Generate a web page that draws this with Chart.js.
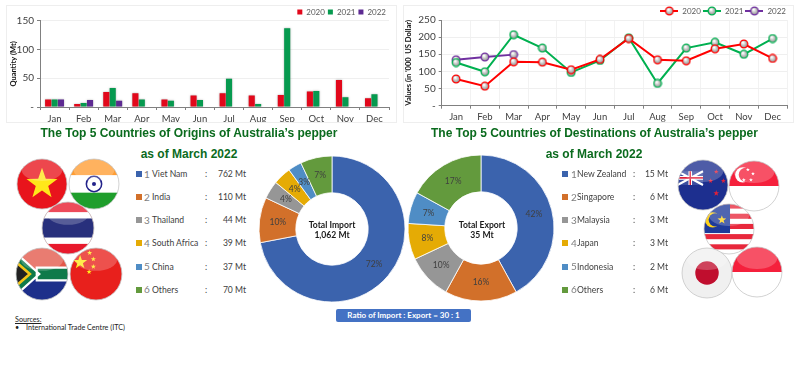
<!DOCTYPE html>
<html>
<head>
<meta charset="utf-8">
<script src="https://cdn.jsdelivr.net/npm/chart.js@4/dist/chart.umd.min.js"></script>
<style>
html, body { margin: 0; padding: 0; background: #fff; }
#page { position: relative; width: 800px; height: 381px; overflow: hidden; font-family: Lato, sans-serif; color: #404040; }
#page canvas, #page svg, .txt, .panel { position: absolute; }
.panel { border: 1px solid #eeeeee; box-sizing: border-box; }
.txt { white-space: nowrap; }
.title { font-family: "Liberation Sans", sans-serif; font-weight: bold; font-size: 12px; color: #0b6b1e; transform: translateX(-50%); }
.total { font-weight: bold; font-size: 8.6px; line-height: 10px; color: #1a1a1a; text-align: center; transform: translateX(-50%); }
.swatch { position: absolute; width: 6px; height: 6px; }
.num { font-size: 10px; color: #7f7f7f; }
.row { font-size: 8.6px; color: #404040; }
#ratio { left: 336px; top: 309px; width: 135px; height: 13px; background: #4472c4; border-radius: 2px; color: #fff; font-weight: bold; font-size: 8px; line-height: 13px; text-align: center; }
</style>
</head>
<body>
<div id="page">
  <div class="panel" style="left:6px;top:5px;width:391px;height:118px"></div>
  <div class="panel" style="left:403px;top:5px;width:391px;height:118px"></div>
  <canvas id="barChart" width="390" height="122" style="left:6px;top:5px"></canvas>
  <canvas id="lineChart" width="390" height="122" style="left:403px;top:5px"></canvas>
  <canvas id="importChart" width="150" height="150" style="left:257px;top:154px"></canvas>
  <canvas id="exportChart" width="150" height="150" style="left:406px;top:153px"></canvas>
  <div class="txt title" style="left:189px;top:126px">The Top 5 Countries of Origins of Australia’s pepper</div>
  <div class="txt title" style="left:594.5px;top:126px">The Top 5 Countries of Destinations of Australia’s pepper</div>
  <div class="txt title" style="left:189px;top:147px">as of March 2022</div>
  <div class="txt title" style="left:594px;top:147px">as of March 2022</div>
  <div class="txt total" style="left:332px;top:220px">Total Import<br>1,062 Mt</div>
  <div class="txt total" style="left:482px;top:220px">Total Export<br>35 Mt</div>
  <div class="txt" id="ratio">Ratio of Import : Export = 30 : 1</div>
  <div class="txt" style="left:15px;top:315px;font-size:7.2px;text-decoration:underline;color:#222">Sources:</div>
  <div class="txt" style="left:15px;top:323px;font-size:7.2px;color:#222">•</div>
  <div class="txt" style="left:26px;top:323px;font-size:7.2px;color:#222">International Trade Centre (ITC)</div>
</div>
<script>
const months = ['Jan', 'Feb', 'Mar', 'Apr', 'May', 'Jun', 'Jul', 'Aug', 'Sep', 'Oct', 'Nov', 'Dec'];
const seriesNames = ['2020', '2021', '2022'];

// quantity, Mt
const quantity2020 = [13, 5, 26, 24, 13, 20, 24, 20, 21, 27, 47, 15];
const quantity2021 = [13, 7, 33, 13, 11, 12, 49, 5, 137, 28, 17, 22];
const quantity2022 = [13, 12, 11];

// values, '000 US Dollar
const value2020 = [78, 57, 128, 127, 105, 135, 196, 134, 131, 166, 180, 138];
const value2021 = [126, 99, 207, 168, 97, 132, 198, 65, 168, 185, 150, 196];
const value2022 = [134, 142, 149];

const originNames = ['Viet Nam', 'India', 'Thailand', 'South Africa', 'China', 'Others'];
const originQuantity = ['762 Mt', '110 Mt', '44 Mt', '39 Mt', '37 Mt', '70 Mt'];
const originShare = [72, 10, 4, 4, 3, 7];

const destNames = ['New Zealand', 'Singapore', 'Malaysia', 'Japan', 'Indonesia', 'Others'];
const destQuantity = ['15 Mt', '6 Mt', '3 Mt', '3 Mt', '2 Mt', '6 Mt'];
const destShare = [42, 16, 10, 8, 7, 17];

const sliceColors = ['#3b63ad', '#d2702a', '#969696', '#e5ab05', '#4f8dc5', '#639a3d'];
const barColors = ['#e2081b', '#069a4f', '#5d2a92'];
const lineColors = ['#ff0000', '#00b050', '#7030a0'];
const page = document.getElementById('page');

Chart.defaults.font.family = 'Lato, sans-serif';
Chart.defaults.color = '#404040';
Chart.defaults.animation = false;

// ticks with a dash at zero, the way the accounting format shows it
function dashZero(v){
    return v === 0 ? '-' : v;
}

function fixedAxes(leftWidth, bottomHeight, stepSize, max, yTitle, verticalGrid){
    return {
        x: {
            offset: true,
            afterFit: function (s){ s.height = bottomHeight; },
            grid: { offset: true, drawOnChartArea: verticalGrid, color: '#f2f2f2', tickColor: '#808080', tickLength: 3 },
            border: { color: '#808080' },
            ticks: { font: { size: 9.5 }, color: '#404040', maxRotation: 0, padding: 3 }
        },
        y: {
            min: 0,
            max: max,
            afterFit: function (s){ s.width = leftWidth; },
            grid: { color: '#efefef', tickColor: '#808080', tickLength: 3 },
            border: { color: '#808080' },
            ticks: { stepSize: stepSize, callback: dashZero, font: { size: 10 }, color: '#404040', padding: 3 },
            title: { display: true, text: yTitle, font: { size: 7.5, weight: 'bold' }, color: '#111', padding: { top: 0, bottom: 1 } }
        }
    };
}

// keep the legend to a set height so the plot starts where it should
function legendHeight(h){
    return {
        id: 'legendHeight',
        beforeInit: function (chart){
            const fit = chart.legend.fit;
            chart.legend.fit = function (){
                fit.call(this);
                this.height = h;
            };
        }
    };
}

// soft grey halo behind the bars
const barShadow = {
    id: 'barShadow',
    beforeDatasetsDraw: function (chart){
        chart.ctx.save();
        chart.ctx.shadowColor = 'rgba(90,90,90,0.55)';
        chart.ctx.shadowBlur = 2;
    },
    afterDatasetsDraw: function (chart){
        chart.ctx.restore();
    }
};

new Chart(document.getElementById('barChart'), {
    type: 'bar',
    data: {
        labels: months,
        datasets: [
            { label: seriesNames[0], data: quantity2020, backgroundColor: barColors[0] },
            { label: seriesNames[1], data: quantity2021, backgroundColor: barColors[1] },
            { label: seriesNames[2], data: quantity2022, backgroundColor: barColors[2] }
        ]
    },
    plugins: [barShadow, legendHeight(15.7)],
    options: {
        responsive: false,
        categoryPercentage: 0.66,
        barPercentage: 0.95,
        layout: { padding: { left: 3, right: 7, top: 0, bottom: 5 } },
        scales: fixedAxes(31, 15, 50, 150, 'Quantity (Mt)', false),
        plugins: {
            tooltip: { enabled: false },
            legend: {
                align: 'end',
                labels: { boxWidth: 5, boxHeight: 5, padding: 3, font: { size: 8 }, color: '#595959' }
            }
        }
    }
});

// glossy grey ball with a coloured rim
function ballMarker(color){
    const c = document.createElement('canvas');
    c.width = 10;
    c.height = 10;
    const g = c.getContext('2d');
    const fill = g.createRadialGradient(4, 3.5, 0.5, 5, 5, 4);
    fill.addColorStop(0, '#ffffff');
    fill.addColorStop(0.6, '#b8b8b8');
    fill.addColorStop(1, '#8a8a8a');
    g.beginPath();
    g.arc(5, 5, 3.8, 0, Math.PI * 2);
    g.fillStyle = fill;
    g.fill();
    g.lineWidth = 1.3;
    g.strokeStyle = color;
    g.stroke();
    return c;
}

function legendMarker(color){
    const c = document.createElement('canvas');
    c.width = 18;
    c.height = 10;
    const g = c.getContext('2d');
    g.strokeStyle = color;
    g.lineWidth = 2;
    g.beginPath();
    g.moveTo(0, 5);
    g.lineTo(18, 5);
    g.stroke();
    g.drawImage(ballMarker(color), 4, 0);
    return c;
}

function lineSet(i, values){
    return {
        label: seriesNames[i],
        data: values,
        borderColor: lineColors[i],
        borderWidth: 2,
        pointStyle: ballMarker(lineColors[i]),
        tension: 0
    };
}

new Chart(document.getElementById('lineChart'), {
    type: 'line',
    data: {
        labels: months,
        datasets: [lineSet(0, value2020), lineSet(1, value2021), lineSet(2, value2022)]
    },
    plugins: [legendHeight(15)],
    options: {
        responsive: false,
        layout: { padding: { left: 1, right: 5, top: 0, bottom: 5.3 } },
        scales: fixedAxes(37.7, 16, 50, 250, "Values (in '000  US Dollar)", true),
        plugins: {
            tooltip: { enabled: false },
            legend: {
                align: 'end',
                labels: {
                    usePointStyle: true,
                    pointStyleWidth: 18,
                    padding: 2,
                    font: { size: 8 },
                    color: '#595959',
                    generateLabels: function (chart){
                        return chart.data.datasets.map(function (d, i){
                            return { text: d.label, pointStyle: legendMarker(lineColors[i]), datasetIndex: i, lineWidth: 0, fontColor: '#595959' };
                        });
                    }
                }
            }
        }
    }
});

// percent text on each slice
const sliceLabels = {
    id: 'sliceLabels',
    afterDatasetsDraw: function (chart){
        const ctx = chart.ctx;
        const ds = chart.data.datasets[0];
        ctx.save();
        ctx.font = '8.5px Lato, sans-serif';
        ctx.fillStyle = '#3f3f3f';
        ctx.textAlign = 'center';
        ctx.textBaseline = 'middle';
        chart.getDatasetMeta(0).data.forEach(function (arc, i){
            const p = arc.tooltipPosition();
            ctx.fillText(ds.data[i] + '%', p.x, p.y);
        });
        ctx.restore();
    }
};

function doughnut(id, names, shares){
    new Chart(document.getElementById(id), {
        type: 'doughnut',
        data: {
            labels: names,
            datasets: [{ data: shares, backgroundColor: sliceColors, borderColor: '#ffffff', borderWidth: 0.8, radius: 73, cutout: 37 }]
        },
        plugins: [sliceLabels],
        options: {
            responsive: false,
            plugins: { legend: { display: false }, tooltip: { enabled: false } }
        }
    });
}

doughnut('importChart', originNames, originShare);
doughnut('exportChart', destNames, destShare);

// lists beside the doughnuts
function addText(cls, text, left, centerY, alignRight){
    const d = document.createElement('div');
    d.className = 'txt ' + cls;
    d.textContent = text;
    d.style.top = (centerY - 6) + 'px';
    d.style.lineHeight = '12px';
    if (alignRight){
        d.style.right = (800 - left) + 'px';
    } else {
        d.style.left = left + 'px';
    }
    page.appendChild(d);
}

function addList(names, quantities, xs){
    names.forEach(function (name, i){
        const y = 174 + i * 23.15;
        const s = document.createElement('div');
        s.className = 'swatch';
        s.style.left = xs.box + 'px';
        s.style.top = (y - 3) + 'px';
        s.style.background = sliceColors[i];
        page.appendChild(s);
        addText('num', String(i + 1), xs.num, y - 0.5);
        addText('row', name, xs.name, y);
        addText('row', ':', xs.colon, y);
        addText('row', quantities[i], xs.value, y, true);
    });
}

addList(originNames, originQuantity, { box: 136, num: 144, name: 152, colon: 205, value: 246 });
addList(destNames, destQuantity, { box: 562, num: 571, name: 577, colon: 633, value: 668 });

// flag buttons
function starPts(cx, cy, r){
    const pts = [];
    for (let i = 0; i < 10; i++){
        const a = -Math.PI / 2 + i * Math.PI / 5;
        const q = i % 2 ? r * 0.4 : r;
        pts.push((cx + q * Math.cos(a)).toFixed(1) + ',' + (cy + q * Math.sin(a)).toFixed(1));
    }
    return pts.join(' ');
}
function star(cx, cy, r, fill){
    return '<polygon points="' + starPts(cx, cy, r) + '" fill="' + fill + '"/>';
}
function band(y, h, fill){
    return '<rect x="0" y="' + y + '" width="100" height="' + h + '" fill="' + fill + '"/>';
}

const flagArt = {
    vietnam: band(0, 100, '#e8141c') + star(50, 50, 32, '#ffe81a'),
    india: band(0, 33, '#ff9d33') + band(33, 34, '#ffffff') + band(67, 33, '#1f9e2c') +
        '<circle cx="50" cy="50" r="15" fill="none" stroke="#22228a" stroke-width="3"/><circle cx="50" cy="50" r="4" fill="#22228a"/>',
    thailand: band(0, 100, '#e8192c') + band(20, 60, '#ffffff') + band(32, 36, '#28307c'),
    southafrica: band(0, 50, '#e3584a') + band(50, 50, '#1d2f8a') +
        '<path d="M-5,5 L45,50 L-5,95 Z M40,38 L105,38 L105,62 L40,62 Z" fill="#0f7a4a" stroke="#fff" stroke-width="4"/>' +
        '<path d="M-5,22 L27,50 L-5,78 Z" fill="#222" stroke="#f5c518" stroke-width="5"/>',
    china: band(0, 100, '#e8201c') + star(20, 28, 14, '#ffe81a') + star(38, 10, 5, '#ffe81a') + star(45, 22, 5, '#ffe81a') +
        star(45, 36, 5, '#ffe81a') + star(37, 46, 5, '#ffe81a'),
    newzealand: band(0, 100, '#1d2f8f') +
        '<rect x="0" y="23" width="50" height="27" fill="#3a4da0"/><path d="M0,23 L50,50 M50,23 L0,50" stroke="#fff" stroke-width="4"/><path d="M25,23 L25,50 M0,36 L50,36" stroke="#fff" stroke-width="7"/>' +
        '<path d="M25,23 L25,50 M0,36 L50,36" stroke="#e0203a" stroke-width="3"/>' +
        star(76, 24, 5, '#e0203a') + star(65, 42, 5, '#e0203a') + star(90, 42, 5, '#e0203a') + star(76, 66, 6, '#e0203a'),
    singapore: band(0, 50, '#f5203c') + band(50, 50, '#ffffff') +
        '<circle cx="28" cy="28" r="15" fill="#fff"/><circle cx="34" cy="28" r="14" fill="#f5203c"/>' +
        star(38, 18, 4, '#fff') + star(48, 26, 4, '#fff') + star(44, 38, 4, '#fff') + star(30, 38, 4, '#fff'),
    malaysia: band(0, 100, '#ffffff') + band(0, 10, '#e8283c') + band(20, 10, '#e8283c') + band(40, 10, '#e8283c') + band(60, 10, '#e8283c') + band(80, 10, '#e8283c') +
        '<rect x="0" y="0" width="52" height="58" fill="#1f3a9a"/><circle cx="18" cy="32" r="15" fill="#ffd21a"/><circle cx="23" cy="32" r="13" fill="#1f3a9a"/>' +
        star(36, 32, 9, '#ffd21a'),
    japan: band(0, 100, '#f0f0f0') + '<circle cx="50" cy="50" r="23" fill="#c00e2e"/>',
    indonesia: band(0, 50, '#f5203c') + band(50, 50, '#ffffff')
};

const flagSpots = [
    ['vietnam', 42, 184, 25], ['india', 94, 184, 25], ['thailand', 68, 228, 26],
    ['southafrica', 42, 274, 26], ['china', 96, 274, 26],
    ['newzealand', 703, 185, 25], ['singapore', 754, 186, 25], ['malaysia', 729, 229, 25],
    ['japan', 707, 273, 25], ['indonesia', 757, 272, 25]
];

flagSpots.forEach(function (f){
    const size = f[3] * 2 + 2;
    const svg = '<svg xmlns="http://www.w3.org/2000/svg" width="' + size + '" height="' + size + '" viewBox="-1 -1 102 102" style="left:' + (f[1] - size / 2) + 'px;top:' + (f[2] - size / 2) + 'px">' +
        '<clipPath id="clip-' + f[0] + '"><circle cx="50" cy="50" r="49"/></clipPath>' +
        '<g clip-path="url(#clip-' + f[0] + ')">' + flagArt[f[0]] +
        '<ellipse cx="50" cy="22" rx="40" ry="22" fill="#fff" opacity="0.22"/></g>' +
        '<circle cx="50" cy="50" r="49" fill="none" stroke="#c4c4c4" stroke-width="1.5"/></svg>';
    page.insertAdjacentHTML('beforeend', svg);
});
</script>
</body>
</html>
